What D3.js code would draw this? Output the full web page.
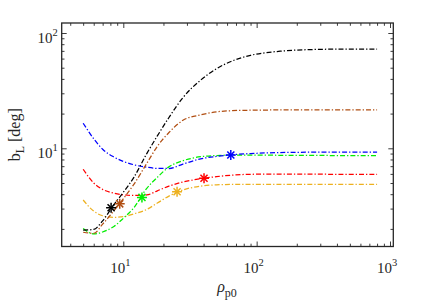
<!DOCTYPE html>
<html><head><meta charset="utf-8">
<script src="https://cdn.jsdelivr.net/npm/d3@7"></script>
<style>
html,body{margin:0;padding:0;background:#fff;}
svg{display:block;}
text{font-family:"Liberation Serif","Times New Roman",serif;fill:#262626;}
</style></head>
<body>
<svg id="chart" width="436" height="308"></svg>
<script>
// ---- data ----
const rho = [5, 6, 7, 8.5, 10, 12, 15, 18, 22, 28, 38, 50, 65, 90, 150, 280, 500, 800];
const bBlack  = [1.95, 1.98, 2.35, 3.25, 4.15, 5.6, 9.0, 12.8, 18.5, 27.5, 39, 49, 57, 64, 69.5, 72, 72.6, 72.6];
const bBrown  = [1.87, 1.83, 2.2, 2.87, 3.65, 4.87, 7.4, 10.4, 13.7, 17.5, 19.5, 20.7, 21.2, 21.4, 21.5, 21.5, 21.5, 21.5];
const bBlue   = [16.5, 12.1, 9.8, 8.4, 7.7, 7.2, 6.85, 6.7, 6.68, 7.3, 8.1, 8.5, 8.78, 9.0, 9.18, 9.25, 9.25, 9.25];
const bGreen  = [2.02, 1.81, 1.88, 2.1, 2.47, 3.05, 4.5, 5.6, 6.9, 7.8, 8.45, 8.65, 8.72, 8.72, 8.7, 8.67, 8.65, 8.65];
const bRed    = [6.58, 5.0, 4.4, 4.08, 3.95, 3.9, 3.94, 4.28, 4.7, 5.1, 5.45, 5.68, 5.85, 5.95, 5.98, 5.96, 5.95, 5.95];
const bOrange = [3.56, 2.85, 2.6, 2.52, 2.55, 2.7, 2.95, 3.35, 3.85, 4.35, 4.7, 4.82, 4.86, 4.86, 4.86, 4.86, 4.86, 4.86];
const seriesNames = ["black", "brown", "blue", "green", "red", "orange"];
const seriesColors = ["#000000", "#b04e12", "#0000ff", "#00ee00", "#ff0000", "#edb120"];
const starRho = [8.1, 9.4, 64, 13.8, 40.3, 25.3];
const starB   = [3.05, 3.3, 8.75, 3.75, 5.5, 4.2];
const xMajor = [10, 100, 1000];
const xMajorExp = ["1", "2", "3"];
const yMajor = [10, 100];
const yMajorExp = ["1", "2"];
const xLabelMain = "ρ", xLabelSub = "p0";
const yLabelMain = "b", yLabelSub = "L", yLabelRest = " [deg]";

// ---- layout ----
const L = 61.7, R = 393.3, T = 23, B = 246.5;
const xs0 = d3.scaleLog().domain([10, 1000]).range([123.3, 390]);
const ys0 = d3.scaleLog().domain([10, 100]).range([148.3, 33]);
const x = d3.scaleLog().domain([xs0.invert(L), xs0.invert(R)]).range([L, R]);
const y = d3.scaleLog().domain([ys0.invert(B), ys0.invert(T)]).range([B, T]);

const svg = d3.select("#chart");
const axisColor = "#262626";

function minorVals(dom) {
  const out = [];
  const lo = Math.floor(Math.log10(dom[0])), hi = Math.ceil(Math.log10(dom[1]));
  for (let d = lo; d <= hi; d++) for (let k = 2; k <= 9; k++) {
    const v = k * Math.pow(10, d);
    if (v > dom[0] && v < dom[1]) out.push(v);
  }
  return out;
}
const xMinor = minorVals(x.domain());
const yMinor = minorVals(y.domain());

function styleAxis(g) {
  g.select(".domain").remove();
  g.selectAll(".tick line").attr("stroke", axisColor).attr("stroke-width", 0.9);
  g.selectAll(".tick text").remove();
}
svg.append("g").attr("transform", `translate(0,${B})`)
  .call(d3.axisBottom(x).tickValues(xMajor).tickSize(-5).tickSizeOuter(0)).call(styleAxis);
svg.append("g").attr("transform", `translate(0,${B})`)
  .call(d3.axisBottom(x).tickValues(xMinor).tickSize(-2.8).tickSizeOuter(0)).call(styleAxis);
svg.append("g").attr("transform", `translate(0,${T})`)
  .call(d3.axisTop(x).tickValues(xMajor).tickSize(-5).tickSizeOuter(0)).call(styleAxis);
svg.append("g").attr("transform", `translate(0,${T})`)
  .call(d3.axisTop(x).tickValues(xMinor).tickSize(-2.8).tickSizeOuter(0)).call(styleAxis);
svg.append("g").attr("transform", `translate(${L},0)`)
  .call(d3.axisLeft(y).tickValues(yMajor).tickSize(-5).tickSizeOuter(0)).call(styleAxis);
svg.append("g").attr("transform", `translate(${L},0)`)
  .call(d3.axisLeft(y).tickValues(yMinor).tickSize(-2.8).tickSizeOuter(0)).call(styleAxis);
svg.append("g").attr("transform", `translate(${R},0)`)
  .call(d3.axisRight(y).tickValues(yMajor).tickSize(-5).tickSizeOuter(0)).call(styleAxis);
svg.append("g").attr("transform", `translate(${R},0)`)
  .call(d3.axisRight(y).tickValues(yMinor).tickSize(-2.8).tickSizeOuter(0)).call(styleAxis);

svg.append("clipPath").attr("id", "clip").append("rect")
  .attr("x", L).attr("y", T).attr("width", R - L).attr("height", B - T);

const allSeries = [bBlack, bBrown, bBlue, bGreen, bRed, bOrange];
const line = d3.line().x(d => x(d[0])).y(d => y(d[1])).curve(d3.curveMonotoneX);
const plot = svg.append("g").attr("clip-path", "url(#clip)");
[5, 4, 3, 2, 1, 0].forEach(i => {
  plot.append("path")
    .datum(rho.map((r, j) => [r, allSeries[i][j]]))
    .attr("d", line)
    .attr("fill", "none")
    .attr("stroke", seriesColors[i])
    .attr("stroke-width", 1.25)
    .attr("stroke-dasharray", "5,2,1.3,2");
});
[5, 4, 3, 2, 1, 0].forEach(i => {
  const cx = x(starRho[i]), cy = y(starB[i]), r = 5;
  const g = plot.append("g").attr("transform", `translate(${cx},${cy})`)
    .attr("stroke", seriesColors[i]).attr("stroke-width", 1.5);
  [0, 45, 90, 135].forEach(a => {
    const rad = a * Math.PI / 180;
    g.append("line")
      .attr("x1", -r * Math.cos(rad)).attr("y1", -r * Math.sin(rad))
      .attr("x2", r * Math.cos(rad)).attr("y2", r * Math.sin(rad));
  });
});

svg.append("rect").attr("x", L).attr("y", T).attr("width", R - L).attr("height", B - T)
  .attr("fill", "none").attr("stroke", axisColor).attr("stroke-width", 1.3);

xMajor.forEach((v, i) => {
  const t = svg.append("text").attr("x", x(v) - 3).attr("y", 273)
    .attr("text-anchor", "middle").attr("font-size", 15);
  t.append("tspan").text("10");
  t.append("tspan").attr("dy", -7).attr("font-size", 10.5).text(xMajorExp[i]);
});
yMajor.forEach((v, i) => {
  const t = svg.append("text").attr("x", L - 4).attr("y", y(v) + 10)
    .attr("text-anchor", "end").attr("font-size", 15);
  t.append("tspan").text("10");
  t.append("tspan").attr("dy", -7).attr("font-size", 10.5).text(yMajorExp[i]);
});

const xl = svg.append("text").attr("x", 227).attr("y", 292).attr("text-anchor", "middle").attr("font-size", 16);
xl.append("tspan").attr("font-style", "italic").text(xLabelMain);
xl.append("tspan").attr("dy", 5).attr("font-size", 12).text(xLabelSub);

const yl = svg.append("text").attr("transform", `translate(20,${(T + B) / 2}) rotate(-90)`)
  .attr("text-anchor", "middle").attr("font-size", 16);
yl.append("tspan").text(yLabelMain);
yl.append("tspan").attr("dy", 4).attr("font-size", 12).text(yLabelSub);
yl.append("tspan").attr("dy", -4).text(yLabelRest);
</script>
</body></html>
